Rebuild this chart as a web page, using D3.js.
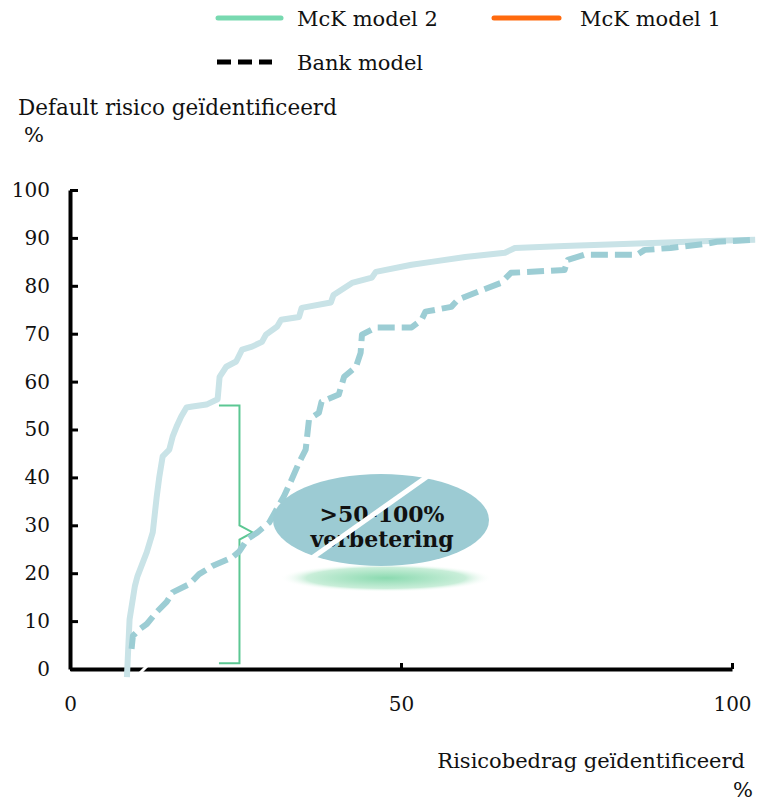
<!DOCTYPE html>
<html>
<head>
<meta charset="utf-8">
<script src="https://cdn.jsdelivr.net/npm/d3@7"></script>
<style>
  body { margin: 0; background: #fff; }
  svg { display: block; }
  text { font-family: "DejaVu Serif", Georgia, serif; fill: #111; }
</style>
</head>
<body>
<svg id="chart" width="758" height="801"></svg>
<script>
// x = risicobedrag geidentificeerd (%), y = default risico geidentificeerd (%)
let mck2X = [8.6, 9.0, 9.8, 10.2, 11.6, 12.5, 13.1, 13.5, 14.0, 15.0, 15.5, 16.1, 16.8, 17.6, 18.5, 20.6, 22.3, 22.6, 23.6, 25.1, 26.0, 27.5, 29.0, 29.6, 31.3, 31.9, 34.6, 35.0, 39.4, 39.8, 42.6, 45.6, 46.2, 51.6, 54.6, 59.7, 65.7, 67.2, 74.7, 84.7, 97.7, 103.5]
let mck2Y = [-1.7, 10.4, 17.3, 19.4, 24.4, 28.5, 36.0, 40.2, 44.4, 45.8, 48.5, 50.6, 52.7, 54.6, 54.8, 55.2, 56.3, 61.0, 63.1, 64.2, 66.7, 67.3, 68.3, 69.8, 71.5, 72.9, 73.5, 75.4, 76.5, 78.1, 80.6, 81.7, 82.9, 84.4, 85.0, 86.0, 86.9, 87.9, 88.3, 88.8, 89.4, 89.6]
let bankX = [9.3, 9.5, 10.5, 11.6, 13.1, 14.6, 15.5, 18.0, 19.5, 21.5, 24.5, 25.6, 26.8, 28.3, 30.1, 32.3, 33.5, 34.6, 35.6, 36.1, 37.6, 38.0, 40.6, 41.4, 43.2, 43.9, 44.1, 46.2, 51.6, 53.1, 53.7, 57.6, 58.6, 61.7, 65.1, 66.6, 74.7, 75.2, 77.7, 85.7, 86.8, 90.7, 96.2, 97.7, 103.5]
let bankY = [4.2, 6.9, 8.3, 9.4, 11.9, 14.0, 16.0, 17.7, 19.8, 21.5, 23.3, 24.6, 27.1, 28.5, 30.6, 36.0, 39.6, 43.1, 45.8, 52.1, 53.5, 55.8, 57.3, 61.0, 63.1, 66.0, 69.8, 71.3, 71.3, 72.9, 74.6, 75.6, 77.1, 78.8, 80.6, 82.7, 83.3, 85.4, 86.5, 86.5, 87.5, 87.9, 88.8, 89.2, 89.6]
let yTicks = [0, 10, 20, 30, 40, 50, 60, 70, 80, 90, 100]
let xTicks = [0, 50, 100]
let legendItems = ["McK model 2", "McK model 1", "Bank model"]
let yTitle = "Default risico geïdentificeerd"
let xTitle = "Risicobedrag geïdentificeerd"
let calloutLines = [">50-100%", "verbetering"]
// bracket from bank model (bottom) up to McK model 2 (top)
let bracketX = [22.5, 25.6, 27.6]
let bracketY = [55, 30, 28.5, 27, 1.2]

let svg = d3.select("#chart")
let x = d3.scaleLinear().domain([0, 100]).range([70, 732])
let y = d3.scaleLinear().domain([0, 100]).range([669, 190])

// legend
let legend = svg.append("g")
legend.append("line").attr("x1", 218).attr("x2", 281).attr("y1", 18).attr("y2", 18)
    .attr("stroke", "#78d9b0").attr("stroke-width", 5).attr("stroke-linecap", "round")
legend.append("line").attr("x1", 494).attr("x2", 559).attr("y1", 18).attr("y2", 18)
    .attr("stroke", "#ff6a0e").attr("stroke-width", 5).attr("stroke-linecap", "round")
legend.append("line").attr("x1", 217).attr("x2", 272).attr("y1", 62).attr("y2", 62)
    .attr("stroke", "#000").attr("stroke-width", 5).attr("stroke-dasharray", "14,7")
legend.selectAll("text").data(legendItems).enter().append("text")
    .attr("x", (d, i) => i == 1 ? 580 : 297)
    .attr("y", (d, i) => i == 2 ? 70 : 26)
    .attr("font-size", 21)
    .text(d => d)

// axis titles
svg.append("text").attr("x", 18).attr("y", 115).attr("font-size", 21.5).text(yTitle)
svg.append("text").attr("x", 24).attr("y", 142).attr("font-size", 21).text("%")
svg.append("text").attr("x", 745).attr("y", 768).attr("font-size", 21).attr("text-anchor", "end").text(xTitle)
svg.append("text").attr("x", 753).attr("y", 797).attr("font-size", 21).attr("text-anchor", "end").text("%")

// axes
let yAxis = svg.append("g").attr("transform", `translate(${x(0)},0)`)
    .call(d3.axisLeft(y).tickValues(yTicks).tickSizeInner(-8).tickSizeOuter(0).tickPadding(20))
let xAxis = svg.append("g").attr("transform", `translate(0,${y(0)})`)
    .call(d3.axisBottom(x).tickValues(xTicks).tickSizeInner(-6).tickSizeOuter(0).tickPadding(28))
for (let ax of [yAxis, xAxis]) {
    ax.select(".domain").attr("stroke", "#000").attr("stroke-width", 4)
    ax.selectAll(".tick line").attr("stroke", "#000").attr("stroke-width", 3)
    ax.selectAll(".tick text").attr("font-size", 20).attr("fill", "#111")
        .attr("font-family", "\"DejaVu Serif\", Georgia, serif")
}
xAxis.selectAll(".tick").filter(d => d == 0).select("line").remove()

// curves
let line = d3.line().x(d => x(d[0])).y(d => y(d[1]))
let bankData = d3.zip(bankX, bankY)
let mck2Data = d3.zip(mck2X, mck2Y)
svg.append("path").datum(mck2Data).attr("d", line)
    .attr("fill", "none").attr("stroke", "#c9e3e7").attr("stroke-width", 6)
    .attr("stroke-linejoin", "round")

// bracket
let bracket = [[bracketX[0], bracketY[0]], [bracketX[1], bracketY[0]], [bracketX[1], bracketY[1]],
    [bracketX[2], bracketY[2]], [bracketX[1], bracketY[3]], [bracketX[1], bracketY[4]], [bracketX[0], bracketY[4]]]
svg.append("path").datum(bracket).attr("d", line)
    .attr("fill", "none").attr("stroke", "#5cc793").attr("stroke-width", 2)

svg.append("path").datum(bankData).attr("d", line)
    .attr("fill", "none").attr("stroke", "#9ccdd4").attr("stroke-width", 6)
    .attr("stroke-dasharray", "17,7").attr("stroke-linejoin", "round")

// small white notch in the x axis where the bank curve starts
svg.append("line").attr("x1", 140).attr("y1", 673).attr("x2", 147).attr("y2", 666)
    .attr("stroke", "#fff").attr("stroke-width", 3)

// callout
let defs = svg.append("defs")
let grad = defs.append("radialGradient").attr("id", "shadow")
grad.append("stop").attr("offset", "0%").attr("stop-color", "#8bdab0")
grad.append("stop").attr("offset", "75%").attr("stop-color", "#c9eed9")
grad.append("stop").attr("offset", "100%").attr("stop-color", "#fff").attr("stop-opacity", 0)
svg.append("ellipse").attr("cx", 386).attr("cy", 578).attr("rx", 106).attr("ry", 14)
    .attr("fill", "url(#shadow)")
svg.append("ellipse").attr("cx", 381).attr("cy", 520).attr("rx", 108).attr("ry", 46)
    .attr("fill", "#9ccbd3")
svg.selectAll(".callout").data(calloutLines).enter().append("text")
    .attr("class", "callout")
    .attr("x", 382).attr("y", (d, i) => 522 + i * 25)
    .attr("text-anchor", "middle").attr("font-size", 22).attr("font-weight", "bold")
    .text(d => d)
svg.append("line").attr("x1", 428).attr("y1", 476).attr("x2", 302).attr("y2", 565)
    .attr("stroke", "#fff").attr("stroke-width", 5)
</script>
</body>
</html>
